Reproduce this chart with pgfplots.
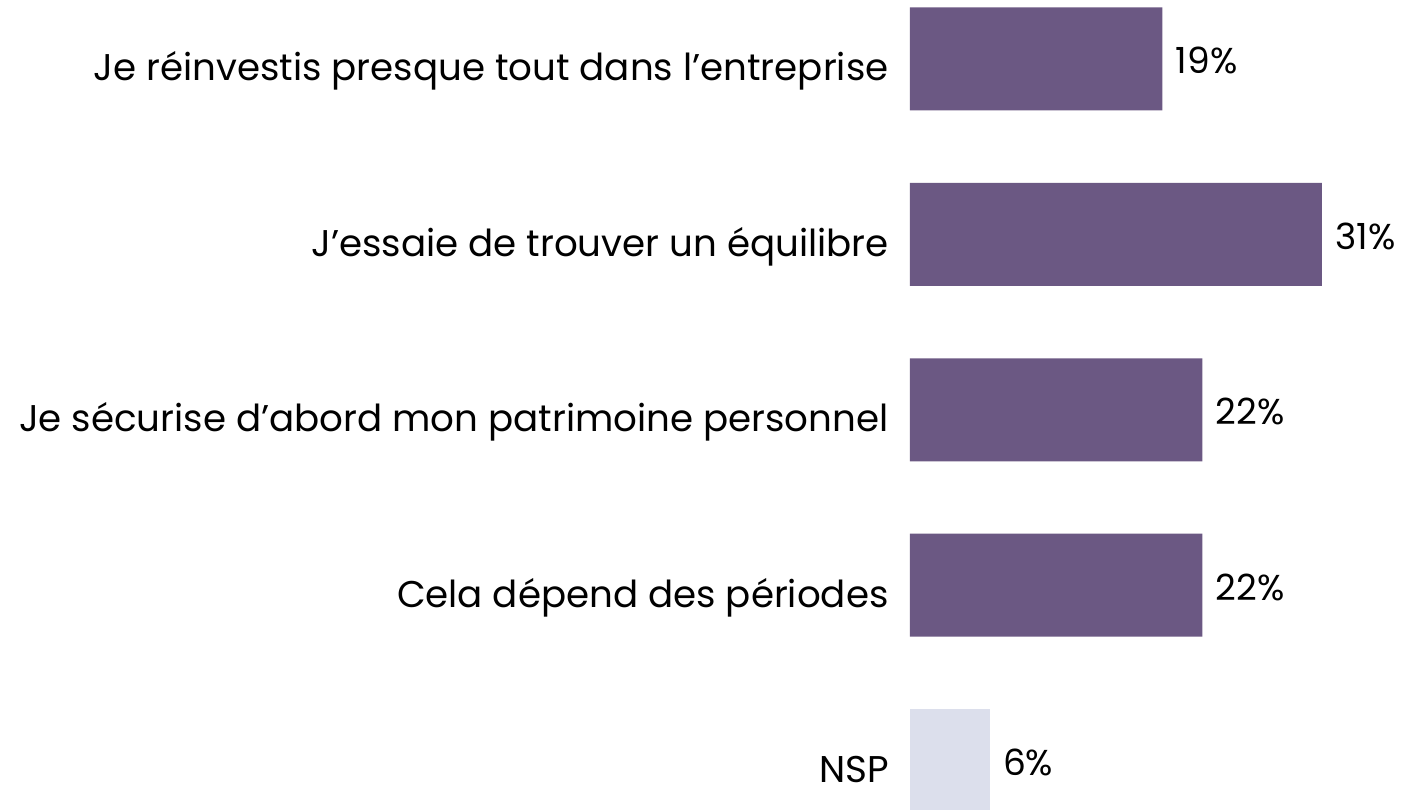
\documentclass[border=0pt]{standalone}
\usepackage{fontspec}
\setmainfont{Poppins}
\usepackage{pgfplots}
\pgfplotsset{compat=1.18}
\definecolor{barpurple}{HTML}{6B5883}
\definecolor{barlight}{HTML}{DCDFEC}
\begin{document}
\begin{tikzpicture}
\begin{axis}[
  at={(0,0)}, anchor=south west,
  scale only axis,
  width=248.5pt, height=404.5pt,
  xbar, bar shift=0pt,
  xmin=0, xmax=37.4,
  ymin=-0.336, ymax=4.276,
  y dir=reverse,
  bar width=0.587,
  axis line style={draw=none},
  major tick length=0pt,
  xtick=\empty,
  ytick={0,1,2,3,4},
  yticklabels={Je réinvestis presque tout dans l’entreprise, J’essaie de trouver un équilibre, Je sécurise d’abord mon patrimoine personnel, Cela dépend des périodes, NSP},
  yticklabel style={font=\fontsize{18.6}{21}\selectfont, anchor=base east, inner sep=0pt, xshift=-10.5pt, yshift=-11pt},
  /pgf/number format/assume math mode=true,
  nodes near coords={\pgfmathprintnumber[assume math mode=true]{\pgfplotspointmeta}\%},
  nodes near coords style={font=\fontsize{18}{20}\selectfont, anchor=base west, inner sep=0pt, xshift=6.5pt, yshift=-7.5pt},
  point meta=x,
  clip=false,
]
\addplot[fill=barpurple, draw=none] coordinates {(19,0) (31,1) (22,2) (22,3)};
\addplot[fill=barlight, draw=none] coordinates {(6,4)};
\end{axis}
\pgfresetboundingbox
\path[use as bounding box] (-455pt,0) rectangle (248.5pt,404.5pt);
\end{tikzpicture}
\end{document}
